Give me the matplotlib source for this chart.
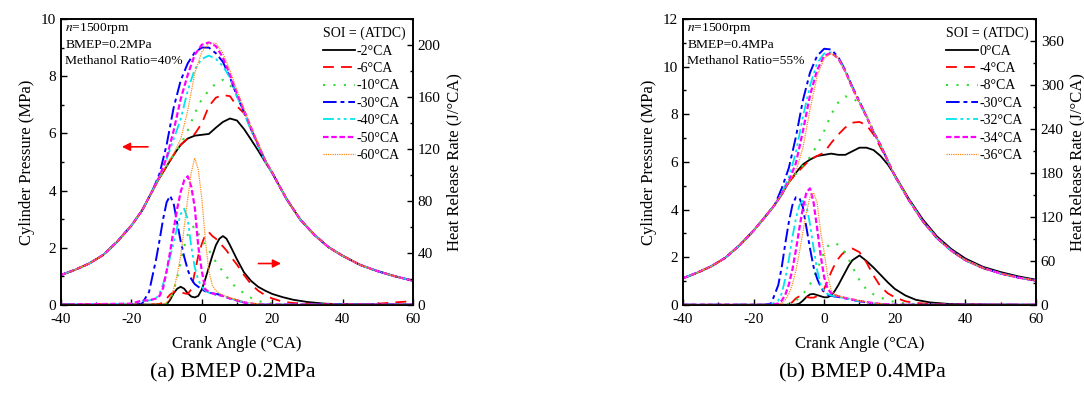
import matplotlib
matplotlib.use("Agg")
import matplotlib.pyplot as plt
from matplotlib.ticker import MultipleLocator

plt.rcParams["font.family"] = ["Liberation Serif", "DejaVu Serif"]
plt.rcParams["mathtext.fontset"] = "stix"
plt.rcParams["axes.unicode_minus"] = False

# ── Crank angle grids ─────────────────────────────────────────────────
PX_LEFT = [-40, -36, -32, -28, -24, -20, -17, -14]
PX_CORE = [-12, -10, -8, -6, -4, -2, 0, 2, 4, 6, 8, 10, 12, 14, 16, 18]
PX_RIGHT = [20, 24, 28, 32, 36, 40, 45, 50, 55, 60]
HX = [-40, -20, -17, -15, -13, -12, -11, -10, -9, -8, -7, -6, -5, -4, -3, -2, -1,
      0, 1, 2, 3, 4, 5, 6, 7, 8, 10, 12, 14, 16, 18, 20, 23, 26, 30, 35, 40, 50, 60]

# ── (a) BMEP 0.2MPa ───────────────────────────────────────────────────
soi_a = ["-2°CA", "-6°CA", "-10°CA", "-30°CA", "-40°CA", "-50°CA", "-60°CA"]
p_left_a = [1.05, 1.23, 1.45, 1.75, 2.22, 2.78, 3.3, 4.0]
p_right_a = [4.62, 3.72, 2.98, 2.45, 2.02, 1.72, 1.4, 1.18, 1.0, 0.85]
p_core_a = [
    [4.45, 4.85, 5.25, 5.6, 5.82, 5.92, 5.95, 5.98, 6.2, 6.4, 6.52, 6.45, 6.15, 5.78, 5.4, 5.0],
    [4.45, 4.85, 5.25, 5.6, 5.82, 5.98, 6.35, 6.95, 7.25, 7.34, 7.3, 6.95, 6.7, 6.15, 5.6, 5.05],
    [4.45, 4.85, 5.25, 5.6, 6.1, 6.7, 7.2, 7.5, 7.75, 7.87, 7.7, 7.3, 6.75, 6.15, 5.6, 5.05],
    [4.6, 5.6, 6.9, 7.85, 8.45, 8.83, 9.0, 9.0, 8.8, 8.5, 7.95, 7.3, 6.75, 6.15, 5.6, 5.05],
    [4.5, 5.1, 5.8, 6.5, 7.5, 8.25, 8.6, 8.72, 8.6, 8.35, 7.95, 7.3, 6.7, 6.1, 5.55, 5.0],
    [4.5, 5.15, 6.1, 7.2, 8.05, 8.75, 9.1, 9.18, 9.05, 8.65, 8.05, 7.4, 6.8, 6.2, 5.6, 5.05],
    [4.45, 4.9, 5.3, 5.8, 6.8, 8.1, 8.85, 9.15, 9.15, 8.8, 8.2, 7.5, 6.85, 6.2, 5.65, 5.08],
]
hrr_a = [
    [0.3, 0.3, 0.3, 0.3, 0.3, 0.3, 0.3, 0.5, 4, 9, 12.5, 14, 12.5, 9, 6.5, 5.8, 7,
     12, 20, 29, 38, 46, 51, 53, 51, 46, 35, 25, 18.5, 14, 11, 8.5, 6, 4, 2.3, 1, 0.6, 0.5, 0.3],
    [0.5, 0.5, 0.5, 0.5, 0.5, 0.8, 2, 5, 8, 10, 10.5, 10, 9, 8.5, 12, 25, 38,
     47, 54, 56, 53, 51, 48, 45, 42, 38, 31, 23, 16, 11, 7.5, 5, 2.5, 1.5, 1, 0.5, 0.5, 1, 3],
    [0.3, 0.3, 0.3, 0.3, 0.3, 0.3, 0.5, 1, 4, 11, 21, 33, 45, 54, 59.5, 60.5, 55,
     50, 46, 42, 38, 33, 29, 26, 22, 18, 13, 9, 5.5, 3, 2, 1.2, 0.5, 0.3, 0.3, 0.3, 0.3, 0.3, 0.3],
    [0.3, 0.5, 1, 10, 35, 50, 66, 79, 84, 78, 63, 49, 37, 27, 20, 16, 14,
     12, 10.5, 9.5, 9, 8.5, 8, 7, 6, 5, 3.5, 2, 1, 0.5, 0.3, 0.3, 0.3, 0.3, 0.3, 0.3, 0.3, 0.3, 0.3],
    [0.3, 1, 3, 3.5, 5, 9, 16, 26, 37, 48, 60, 70, 74, 66, 45, 29, 19,
     14, 11, 9.5, 8.5, 8, 7.5, 7, 6, 5, 3.5, 2, 1, 0.5, 0.3, 0.3, 0.3, 0.3, 0.3, 0.3, 0.3, 0.3, 0.3],
    [0.3, 1, 3.5, 3.5, 5, 7, 13, 26, 41, 58, 74, 87, 96, 99, 91, 75, 45,
     26, 12, 10, 9, 8, 7.5, 7, 6, 5, 3.5, 2, 1, 0.5, 0.3, 0.3, 0.3, 0.3, 0.3, 0.3, 0.3, 0.3, 0.3],
    [0.3, 0.5, 0.5, 0.5, 0.5, 0.5, 0.5, 2, 5, 12, 23, 38, 60, 82, 102, 113, 104,
     82, 50, 26, 15, 11, 9, 7.5, 6.5, 5.5, 4, 2.5, 1.5, 0.8, 0.5, 0.3, 0.3, 0.3, 0.3, 0.3, 0.3, 0.3, 0.3],
]

# ── (b) BMEP 0.4MPa ───────────────────────────────────────────────────
soi_b = ["0°CA", "-4°CA", "-8°CA", "-30°CA", "-32°CA", "-34°CA", "-36°CA"]
p_left_b = [1.12, 1.35, 1.62, 1.98, 2.5, 3.12, 3.65, 4.2]
p_right_b_black = [5.45, 4.45, 3.58, 2.87, 2.35, 1.95, 1.6, 1.38, 1.2, 1.06]
p_right_b = [5.42, 4.4, 3.5, 2.8, 2.28, 1.88, 1.55, 1.32, 1.15, 1.02]
p_core_b = [
    [4.65, 5.15, 5.55, 5.9, 6.1, 6.25, 6.3, 6.35, 6.3, 6.3, 6.45, 6.6, 6.6, 6.5, 6.25, 5.9],
    [4.65, 5.15, 5.5, 5.8, 6.1, 6.25, 6.4, 6.8, 7.15, 7.45, 7.65, 7.68, 7.55, 7.15, 6.6, 6.05],
    [4.65, 5.15, 5.5, 5.85, 6.2, 6.7, 7.3, 8.0, 8.5, 8.75, 8.7, 8.45, 7.95, 7.3, 6.7, 6.05],
    [4.9, 5.75, 7.05, 8.6, 9.75, 10.45, 10.75, 10.72, 10.4, 9.85, 9.15, 8.55, 7.9, 7.25, 6.7, 6.05],
    [4.7, 5.35, 6.4, 7.9, 9.2, 10.15, 10.55, 10.6, 10.35, 9.8, 9.1, 8.5, 7.9, 7.25, 6.7, 6.05],
    [4.65, 5.2, 5.95, 7.3, 8.8, 9.85, 10.45, 10.58, 10.35, 9.8, 9.1, 8.5, 7.9, 7.25, 6.7, 6.05],
    [4.65, 5.15, 5.6, 6.6, 8.2, 9.6, 10.35, 10.55, 10.35, 9.8, 9.1, 8.5, 7.9, 7.25, 6.7, 6.05],
]
hrr_b = [
    [0.3, 0.3, 0.3, 0.3, 0.3, 0.3, 0.3, 0.3, 0.3, 0.5, 2, 6, 11, 14.5, 15, 13.5, 12,
     10.5, 10.5, 13, 19, 27, 36, 45, 54, 61, 67.5, 60, 51, 41, 31, 22, 13, 7, 3.5, 1.5, 1, 0.5, 0.3],
    [0.3, 0.3, 0.3, 0.3, 0.3, 0.3, 0.5, 1, 4, 9, 12, 12.5, 11, 10, 10, 12, 16,
     22, 33, 45, 55, 63, 69, 73, 76, 77, 72, 58, 40, 25, 16, 10.5, 5, 2.7, 1.5, 0.8, 0.5, 0.5, 0.3],
    [0.3, 0.3, 0.3, 0.3, 0.3, 0.3, 0.5, 1.5, 3, 6, 10, 15, 21, 28, 37, 48, 60,
     72, 80, 84, 84.5, 82, 78, 71, 62, 52, 34, 21, 14.5, 10, 6.5, 4, 2, 1, 0.5, 0.3, 0.3, 0.3, 0.3],
    [0.3, 0.3, 0.3, 2, 27, 52, 84, 113, 136, 147, 146, 133, 105, 77, 52, 36, 25,
     18, 14, 12.5, 11.5, 11, 10, 9, 8, 7, 5, 3.5, 2, 1, 0.5, 0.3, 0.3, 0.3, 0.3, 0.3, 0.3, 0.3, 0.3],
    [0.3, 0.3, 0.3, 0.5, 6, 16, 36, 62, 92, 118, 136, 143, 135, 110, 78, 48, 28,
     19, 15, 13, 12, 11, 10, 9, 8, 7, 5, 3.5, 2, 1, 0.5, 0.3, 0.3, 0.3, 0.3, 0.3, 0.3, 0.3, 0.3],
    [0.3, 0.3, 0.3, 0.3, 2, 6, 14, 28, 48, 75, 105, 133, 154, 159, 140, 105, 68,
     38, 22, 16, 13.5, 12, 11, 9.5, 8.5, 7.5, 5.5, 4, 2.5, 1.5, 0.8, 0.3, 0.3, 0.3, 0.3, 0.3, 0.3, 0.3, 0.3],
    [0.3, 0.3, 0.3, 0.3, 0.5, 3, 7, 15, 28, 47, 72, 100, 127, 147, 153, 140, 100,
     72, 40, 20, 14, 12.5, 11, 10, 9, 8, 6, 4, 2.5, 1.5, 0.8, 0.3, 0.3, 0.3, 0.3, 0.3, 0.3, 0.3, 0.3],
]

# ── Styles ────────────────────────────────────────────────────────────
COLORS = ["black", "#ff0000", "#33dd33", "#0000ff", "#00e5ee", "#ff00ff", "#ff8c1a"]
STYLES = ["-", (0, (6, 4)), (0, (1, 4)), (0, (7, 2, 2, 2)), (0, (6, 2, 1.5, 2, 1.5, 2)),
          (0, (2.5, 1.2)), (0, (1, 0.8))]
WIDTHS = [1.3, 1.3, 1.5, 1.4, 1.3, 1.6, 0.9]


def draw_panel(rect, p_left, p_core, p_rights, hrr, labels, ylim_p, ylim_h, h_major,
               info, caption, cap_x, arrows):
    ax = fig.add_axes(rect)
    ax2 = ax.twinx()
    handles = []
    for i in range(7):
        px = PX_LEFT + PX_CORE + PX_RIGHT
        py = p_left + p_core[i] + p_rights[i]
        ln, = ax.plot(px, py, color=COLORS[i], linestyle=STYLES[i], linewidth=WIDTHS[i])
        handles.append(ln)
        ax2.plot(HX, hrr[i], color=COLORS[i], linestyle=STYLES[i], linewidth=WIDTHS[i])

    ax.set_xlim(-40, 60)
    ax.set_ylim(*ylim_p)
    ax2.set_ylim(*ylim_h)
    ax.xaxis.set_major_locator(MultipleLocator(20))
    ax.xaxis.set_minor_locator(MultipleLocator(10))
    ax.yaxis.set_major_locator(MultipleLocator(2))
    ax.yaxis.set_minor_locator(MultipleLocator(1))
    ax2.yaxis.set_major_locator(MultipleLocator(h_major))
    ax2.yaxis.set_minor_locator(MultipleLocator(h_major / 2))
    for a in (ax, ax2):
        a.tick_params(which="both", direction="in", labelsize=11, top=False)
        a.tick_params(which="major", length=4, width=1)
        a.tick_params(which="minor", length=2.5, width=1)
        for s in a.spines.values():
            s.set_linewidth(1.2)
    ax.tick_params(axis="x", pad=6)

    ax.set_xlabel("Crank Angle (°CA)", fontsize=12, labelpad=7)
    ax.set_ylabel("Cylinder Pressure (MPa)", fontsize=12, labelpad=4)
    ax2.set_ylabel("Heat Release Rate (J/°CA)", fontsize=12, labelpad=4)

    for k, t in enumerate(info):
        ax.text(0.012, 0.968 - k * 0.058, t, transform=ax.transAxes, fontsize=9.7,
                va="center", ha="left")

    ax2.legend(handles, labels, title="SOI = (ATDC)", loc="upper right",
               frameon=False, fontsize=10, title_fontsize=10, handlelength=2.3,
               handletextpad=0.1, labelspacing=0.32, borderaxespad=0.15,
               alignment="left")

    for (x0, x1, y) in arrows:
        ax.annotate("", xy=(x1, y), xytext=(x0, y),
                    arrowprops=dict(arrowstyle="-|>", color="red", lw=1.2,
                                    mutation_scale=12))

    fig.text(cap_x, 0.086, caption, fontsize=16, ha="center", va="center")
    return ax, ax2


fig = plt.figure(figsize=(10.84, 4.08), dpi=100)

draw_panel([0.0563, 0.2525, 0.3247, 0.701], p_left_a, p_core_a, [p_right_a] * 7, hrr_a,
           soi_a, (0, 10), (0, 220), 40,
           ["$n$=1500rpm", "BMEP=0.2MPa", "Methanol Ratio=40%"],
           "(a) BMEP 0.2MPa", 0.215, [(-14.5, -23.5, 5.53), (15.3, 23.3, 1.45)])

draw_panel([0.630, 0.2525, 0.3257, 0.701], p_left_b, p_core_b,
           [p_right_b_black] + [p_right_b] * 6, hrr_b,
           soi_b, (0, 12), (0, 390), 60,
           ["$n$=1500rpm", "BMEP=0.4MPa", "Methanol Ratio=55%"],
           "(b) BMEP 0.4MPa", 0.796, [])

plt.savefig("out.png", dpi=100)
